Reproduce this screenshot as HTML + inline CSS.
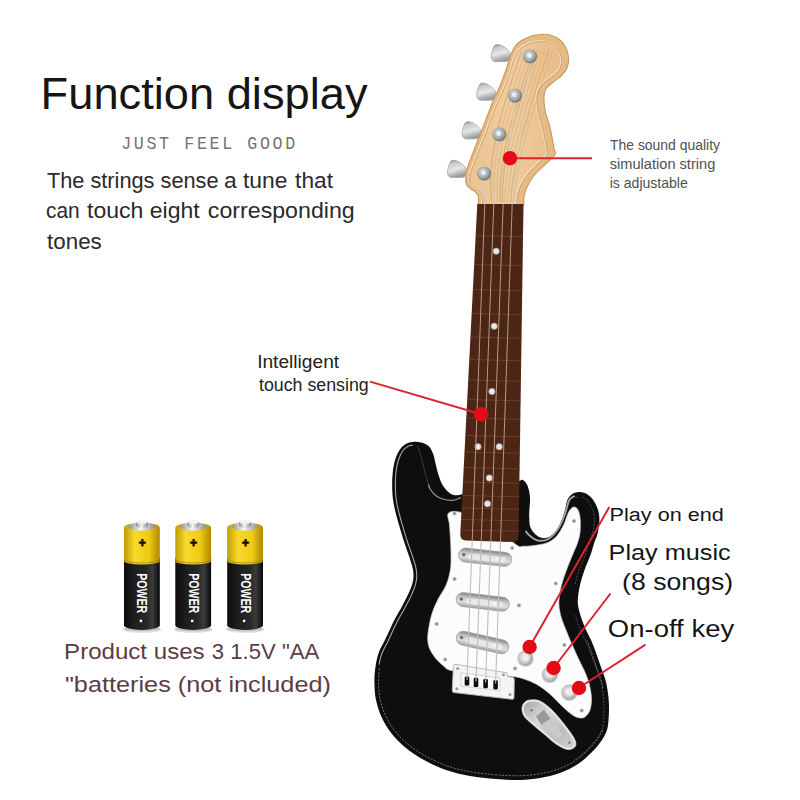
<!DOCTYPE html>
<html lang="en"><head><meta charset="utf-8"><title>Function display</title>
<style>html,body{margin:0;padding:0;background:#fff}body{width:800px;height:800px;overflow:hidden;font-family:"Liberation Sans",sans-serif}svg{display:block}</style>
</head><body>
<svg width="800" height="800" viewBox="0 0 800 800">
<defs>
<linearGradient id="wood" x1="0" y1="0" x2="1" y2="0"><stop offset="0" stop-color="#eac392"/><stop offset="0.45" stop-color="#f0cc9d"/><stop offset="1" stop-color="#e7bc88"/></linearGradient>
<radialGradient id="metal" cx="0.42" cy="0.4" r="0.65"><stop offset="0" stop-color="#f2f4f4"/><stop offset="0.28" stop-color="#c3c8ca"/><stop offset="0.7" stop-color="#a2a9ac"/><stop offset="1" stop-color="#6c7276"/></radialGradient>
<radialGradient id="knob" cx="0.45" cy="0.45" r="0.6"><stop offset="0" stop-color="#f3f3f3"/><stop offset="0.5" stop-color="#d6d6d6"/><stop offset="0.8" stop-color="#b4b4b4"/><stop offset="1" stop-color="#8e8e8e"/></radialGradient>
<linearGradient id="peg" x1="0" y1="0" x2="0.3" y2="1"><stop offset="0" stop-color="#808487"/><stop offset="0.25" stop-color="#c8cbcc"/><stop offset="0.6" stop-color="#e6e7e7"/><stop offset="1" stop-color="#999da0"/></linearGradient>
<linearGradient id="pick" x1="0" y1="0" x2="0" y2="1"><stop offset="0" stop-color="#808080"/><stop offset="0.3" stop-color="#c2c2c2"/><stop offset="0.65" stop-color="#dedede"/><stop offset="1" stop-color="#a0a0a0"/></linearGradient>
<linearGradient id="jackg" x1="0" y1="0" x2="1" y2="1"><stop offset="0" stop-color="#a9a9a9"/><stop offset="0.35" stop-color="#d9d9d9"/><stop offset="0.7" stop-color="#bcbcbc"/><stop offset="1" stop-color="#d0d0d0"/></linearGradient>
<linearGradient id="batY" x1="0" y1="0" x2="1" y2="0"><stop offset="0" stop-color="#c39c00"/><stop offset="0.3" stop-color="#f7da2c"/><stop offset="0.7" stop-color="#efca12"/><stop offset="1" stop-color="#ad8800"/></linearGradient>
<linearGradient id="batK" x1="0" y1="0" x2="1" y2="0"><stop offset="0" stop-color="#0c0c0c"/><stop offset="0.3" stop-color="#1e1e1e"/><stop offset="0.62" stop-color="#272727"/><stop offset="0.8" stop-color="#3b3b3b"/><stop offset="0.93" stop-color="#1a1a1a"/><stop offset="1" stop-color="#080808"/></linearGradient>
<linearGradient id="batT" x1="0" y1="0" x2="1" y2="0"><stop offset="0" stop-color="#909090"/><stop offset="0.45" stop-color="#f6f6f6"/><stop offset="1" stop-color="#8a8a8a"/></linearGradient>
<clipPath id="headclip"><path d="M478.0 205.0C478.1 203.7 478.9 199.1 478.6 197.0C478.3 194.9 477.3 193.8 476.0 192.5C474.7 191.2 472.6 190.3 471.0 189.0C469.4 187.7 467.4 186.8 466.5 184.5C465.6 182.2 465.6 178.3 465.8 175.5C465.9 172.7 465.1 174.2 467.5 167.5C469.9 160.8 475.8 145.8 480.0 135.0C484.2 124.2 489.2 110.7 492.5 102.5C495.8 94.3 497.8 91.4 500.0 86.0C502.2 80.6 504.3 74.8 506.0 70.0C507.7 65.2 508.7 60.7 510.0 57.0C511.3 53.3 512.3 50.6 514.0 48.0C515.7 45.4 517.3 43.4 520.0 41.5C522.7 39.6 526.7 37.7 530.0 36.5C533.3 35.3 536.7 34.8 540.0 34.5C543.3 34.2 546.7 34.1 550.0 35.0C553.3 35.9 557.3 37.8 560.0 40.0C562.7 42.2 564.6 45.0 566.0 48.0C567.4 51.0 568.3 54.7 568.5 58.0C568.7 61.3 568.2 65.0 567.0 68.0C565.8 71.0 563.5 73.5 561.0 76.0C558.5 78.5 554.5 80.8 552.0 83.0C549.5 85.2 547.3 86.8 546.0 89.0C544.7 91.2 544.2 92.5 544.0 96.0C543.8 99.5 544.0 104.8 545.0 110.0C546.0 115.2 548.5 121.2 550.0 127.5C551.5 133.8 553.2 143.5 554.0 148.0C554.8 152.5 556.3 151.9 555.0 154.5C553.7 157.1 549.5 160.0 546.0 163.5C542.5 167.0 537.2 171.6 534.0 175.5C530.8 179.4 528.7 183.4 527.0 187.0C525.3 190.6 524.5 194.0 524.0 197.0C523.5 200.0 523.8 203.7 523.8 205.0Z"/></clipPath>
<clipPath id="bodyclip"><path d="M412.5 442.0C415.2 441.7 418.5 441.8 421.2 442.5C424.0 443.2 426.8 444.4 428.8 446.2C430.7 448.1 432.0 450.8 433.1 453.8C434.2 456.7 434.8 460.4 435.6 463.8C436.4 467.1 437.1 470.4 438.1 473.8C439.2 477.1 440.3 480.8 441.9 483.8C443.5 486.7 445.5 489.4 447.5 491.2C449.5 493.1 451.5 494.5 453.8 495.0C456.0 495.5 455.2 495.6 461.2 494.4C467.3 493.2 480.4 490.2 490.0 488.0C499.6 485.8 513.7 482.4 519.0 481.0C524.3 479.6 520.6 478.9 522.0 479.6C523.4 480.3 525.9 482.0 527.2 485.0C528.5 488.0 529.7 492.4 530.0 497.5C530.3 502.6 529.1 510.4 529.2 515.4C529.4 520.4 529.2 524.3 530.6 527.8C532.0 531.2 535.0 534.3 537.5 536.0C540.0 537.7 543.0 538.5 545.8 538.0C548.5 537.5 551.5 535.9 554.0 533.2C556.5 530.6 559.1 526.1 560.9 522.2C562.7 518.4 563.9 513.8 565.0 509.9C566.1 506.0 566.1 501.8 567.8 498.9C569.4 496.0 571.9 493.7 574.6 492.7C577.4 491.7 581.3 491.7 584.2 492.7C587.2 493.7 590.2 496.0 592.5 498.9C594.8 501.8 596.9 506.2 598.0 509.9C599.1 513.6 599.5 516.8 599.4 520.9C599.3 525.0 598.1 531.1 597.3 534.6C596.5 538.1 595.6 538.6 594.5 542.0C593.4 545.4 592.2 550.3 590.5 555.0C588.8 559.7 586.2 565.0 584.5 570.0C582.8 575.0 581.1 580.0 580.0 585.0C578.9 590.0 578.0 595.8 577.8 600.0C577.6 604.2 578.3 606.7 579.0 610.0C579.7 613.3 580.8 616.7 582.0 620.0C583.2 623.3 584.5 626.7 586.0 630.0C587.5 633.3 589.5 636.7 591.0 640.0C592.5 643.3 593.8 646.7 595.0 650.0C596.2 653.3 597.3 656.7 598.5 660.0C599.7 663.3 600.8 666.7 602.0 670.0C603.2 673.3 604.6 676.7 605.5 680.0C606.4 683.3 607.0 686.7 607.5 690.0C608.0 693.3 608.5 696.7 608.7 700.0C609.0 703.3 609.0 706.7 609.0 710.0C609.0 713.3 608.8 716.7 608.5 720.0C608.2 723.3 608.1 726.7 607.0 730.0C605.9 733.3 604.5 736.3 602.0 740.0C599.5 743.7 596.0 748.0 592.0 752.0C588.0 756.0 583.3 760.5 578.0 764.0C572.7 767.5 566.3 770.7 560.0 773.0C553.7 775.3 546.7 776.8 540.0 778.0C533.3 779.2 527.3 779.8 520.0 780.0C512.7 780.2 504.3 779.7 496.0 779.0C487.7 778.3 478.3 777.5 470.0 776.0C461.7 774.5 453.7 772.7 446.0 770.0C438.3 767.3 430.7 763.7 424.0 760.0C417.3 756.3 411.3 752.3 406.0 748.0C400.7 743.7 396.0 739.0 392.0 734.0C388.0 729.0 384.7 723.7 382.0 718.0C379.3 712.3 377.3 706.0 376.0 700.0C374.7 694.0 374.5 687.7 374.4 682.0C374.3 676.3 374.8 671.0 375.6 666.0C376.4 661.0 377.4 656.3 379.0 652.0C380.6 647.7 382.4 645.3 385.0 640.0C387.6 634.7 391.5 625.8 394.4 620.0C397.3 614.2 400.1 610.1 402.5 605.5C404.9 600.9 407.2 596.6 409.0 592.5C410.8 588.4 412.3 584.8 413.0 581.0C413.7 577.2 413.7 573.9 413.0 569.8C412.3 565.6 410.4 560.5 409.0 556.0C407.6 551.5 405.9 547.3 404.5 543.0C403.1 538.7 402.0 535.1 400.5 530.0C399.0 524.9 396.8 517.5 395.6 512.5C394.4 507.5 393.7 504.0 393.1 500.0C392.5 496.0 392.4 492.9 392.2 488.8C392.1 484.6 392.1 479.4 392.5 475.0C392.9 470.6 393.4 466.5 394.4 462.5C395.4 458.5 397.0 454.3 398.8 451.2C400.5 448.2 402.7 445.9 405.0 444.4C407.3 442.9 409.8 442.3 412.5 442.0Z"/></clipPath>
</defs>
<rect width="800" height="800" fill="#ffffff"/>
<g id="guitar">
<path d="M495.6 44.8C497.3 44.1 500.6 44.8 503.0 46.2C505.4 47.6 509.1 50.6 510.0 53.0C510.9 55.4 510.0 59.2 508.5 60.6C507.0 62.0 503.5 61.5 501.0 61.6C498.5 61.7 495.4 62.0 493.8 61.2C492.1 60.5 491.5 58.9 491.3 57.0C491.1 55.1 491.9 52.0 492.6 50.0C493.3 48.0 493.9 45.4 495.6 44.8Z" fill="url(#peg)" stroke="#9b9ea0" stroke-width="0.7"/>
<path d="M481.0 83.3C482.7 82.7 486.0 83.4 488.4 84.8C490.8 86.2 494.5 89.2 495.4 91.6C496.3 94.0 495.4 97.8 493.9 99.2C492.4 100.6 488.9 100.1 486.4 100.2C483.9 100.3 480.8 100.6 479.1 99.8C477.5 99.1 476.9 97.5 476.7 95.6C476.5 93.7 477.3 90.6 478.0 88.6C478.7 86.6 479.3 84.0 481.0 83.3Z" fill="url(#peg)" stroke="#9b9ea0" stroke-width="0.7"/>
<path d="M466.4 122.0C468.1 121.3 471.4 122.0 473.8 123.4C476.2 124.8 479.9 127.8 480.8 130.2C481.7 132.6 480.8 136.4 479.3 137.8C477.8 139.2 474.3 138.7 471.8 138.8C469.3 138.9 466.2 139.2 464.6 138.4C462.9 137.7 462.3 136.1 462.1 134.2C461.9 132.3 462.7 129.2 463.4 127.2C464.1 125.2 464.7 122.6 466.4 122.0Z" fill="url(#peg)" stroke="#9b9ea0" stroke-width="0.7"/>
<path d="M451.8 160.6C453.5 159.9 456.8 160.6 459.2 162.0C461.6 163.4 465.3 166.4 466.2 168.8C467.1 171.2 466.2 175.0 464.7 176.4C463.2 177.8 459.7 177.3 457.2 177.4C454.7 177.5 451.6 177.8 449.9 177.1C448.3 176.3 447.7 174.7 447.5 172.8C447.3 170.9 448.1 167.8 448.8 165.8C449.5 163.8 450.1 161.2 451.8 160.6Z" fill="url(#peg)" stroke="#9b9ea0" stroke-width="0.7"/>
<path d="M478.0 205.0C478.1 203.7 478.9 199.1 478.6 197.0C478.3 194.9 477.3 193.8 476.0 192.5C474.7 191.2 472.6 190.3 471.0 189.0C469.4 187.7 467.4 186.8 466.5 184.5C465.6 182.2 465.6 178.3 465.8 175.5C465.9 172.7 465.1 174.2 467.5 167.5C469.9 160.8 475.8 145.8 480.0 135.0C484.2 124.2 489.2 110.7 492.5 102.5C495.8 94.3 497.8 91.4 500.0 86.0C502.2 80.6 504.3 74.8 506.0 70.0C507.7 65.2 508.7 60.7 510.0 57.0C511.3 53.3 512.3 50.6 514.0 48.0C515.7 45.4 517.3 43.4 520.0 41.5C522.7 39.6 526.7 37.7 530.0 36.5C533.3 35.3 536.7 34.8 540.0 34.5C543.3 34.2 546.7 34.1 550.0 35.0C553.3 35.9 557.3 37.8 560.0 40.0C562.7 42.2 564.6 45.0 566.0 48.0C567.4 51.0 568.3 54.7 568.5 58.0C568.7 61.3 568.2 65.0 567.0 68.0C565.8 71.0 563.5 73.5 561.0 76.0C558.5 78.5 554.5 80.8 552.0 83.0C549.5 85.2 547.3 86.8 546.0 89.0C544.7 91.2 544.2 92.5 544.0 96.0C543.8 99.5 544.0 104.8 545.0 110.0C546.0 115.2 548.5 121.2 550.0 127.5C551.5 133.8 553.2 143.5 554.0 148.0C554.8 152.5 556.3 151.9 555.0 154.5C553.7 157.1 549.5 160.0 546.0 163.5C542.5 167.0 537.2 171.6 534.0 175.5C530.8 179.4 528.7 183.4 527.0 187.0C525.3 190.6 524.5 194.0 524.0 197.0C523.5 200.0 523.8 203.7 523.8 205.0Z" fill="url(#wood)"/>
<g clip-path="url(#headclip)">
<path d="M478.0 205.0C478.1 203.7 478.9 199.1 478.6 197.0C478.3 194.9 477.3 193.8 476.0 192.5C474.7 191.2 472.6 190.3 471.0 189.0C469.4 187.7 467.4 186.8 466.5 184.5C465.6 182.2 465.6 178.3 465.8 175.5C465.9 172.7 465.1 174.2 467.5 167.5C469.9 160.8 475.8 145.8 480.0 135.0C484.2 124.2 489.2 110.7 492.5 102.5C495.8 94.3 497.8 91.4 500.0 86.0C502.2 80.6 504.3 74.8 506.0 70.0C507.7 65.2 508.7 60.7 510.0 57.0C511.3 53.3 512.3 50.6 514.0 48.0C515.7 45.4 517.3 43.4 520.0 41.5C522.7 39.6 526.7 37.7 530.0 36.5C533.3 35.3 536.7 34.8 540.0 34.5C543.3 34.2 546.7 34.1 550.0 35.0C553.3 35.9 557.3 37.8 560.0 40.0C562.7 42.2 564.6 45.0 566.0 48.0C567.4 51.0 568.3 54.7 568.5 58.0C568.7 61.3 568.2 65.0 567.0 68.0C565.8 71.0 563.5 73.5 561.0 76.0C558.5 78.5 554.5 80.8 552.0 83.0C549.5 85.2 547.3 86.8 546.0 89.0C544.7 91.2 544.2 92.5 544.0 96.0C543.8 99.5 544.0 104.8 545.0 110.0C546.0 115.2 548.5 121.2 550.0 127.5C551.5 133.8 553.2 143.5 554.0 148.0C554.8 152.5 556.3 151.9 555.0 154.5C553.7 157.1 549.5 160.0 546.0 163.5C542.5 167.0 537.2 171.6 534.0 175.5C530.8 179.4 528.7 183.4 527.0 187.0C525.3 190.6 524.5 194.0 524.0 197.0C523.5 200.0 523.8 203.7 523.8 205.0Z" fill="none" stroke="#e6ba85" stroke-width="16"/>
<path d="M469.0 174.7C469.0 174.9 469.0 175.3 469.0 175.8C469.0 176.3 468.9 176.9 468.9 177.8C468.9 178.6 468.9 180.0 468.9 180.9C469.0 181.8 469.2 182.7 469.2 183.2C469.3 183.6 469.2 183.4 469.4 183.5C469.5 183.7 469.8 183.9 470.1 184.2C470.5 184.4 470.9 184.8 471.3 185.1C471.7 185.4 472.1 185.7 472.5 186.0C473.0 186.4 473.8 186.8 474.2 187.0C474.6 187.3 474.6 187.3 475.0 187.6C475.4 187.9 476.1 188.3 476.5 188.7C477.0 189.0 477.3 189.4 477.7 189.7C478.1 190.1 478.4 190.5 478.7 190.8C479.0 191.1 479.2 191.4 479.5 191.8C479.8 192.2 480.1 192.7 480.4 193.3C480.7 193.8 481.0 194.3 481.2 194.9C481.4 195.5 481.6 196.2 481.7 196.9C481.8 197.5 481.9 198.2 481.9 199.0C481.9 199.7 481.8 200.8 481.8 201.5C481.7 202.1 481.7 202.3 481.6 202.9C481.5 203.6 481.4 202.8 481.3 205.2C481.3 207.6 475.4 217.4 481.2 217.5C487.0 217.6 510.2 207.8 516.0 205.5C521.8 203.2 516.0 204.5 515.9 203.8C515.9 203.1 515.9 202.2 515.9 201.5C515.9 200.9 515.9 200.6 516.0 199.9C516.0 199.2 516.2 197.9 516.3 197.2C516.3 196.5 516.4 196.4 516.5 195.7C516.7 195.1 516.9 193.9 517.1 193.2C517.3 192.5 517.3 192.4 517.5 191.6C517.7 190.9 518.1 189.6 518.4 188.9C518.7 188.1 518.7 187.9 519.1 187.1C519.4 186.4 520.0 185.0 520.4 184.3C520.7 183.5 520.8 183.4 521.2 182.6C521.6 181.9 522.4 180.4 522.9 179.6C523.3 178.9 523.4 178.7 523.9 177.9C524.5 177.1 525.5 175.6 526.1 174.8C526.7 173.9 526.8 173.8 527.5 172.9C528.2 172.1 529.6 170.5 530.4 169.7C531.2 168.9 531.3 168.8 532.1 168.0C533.0 167.1 534.4 165.8 535.4 164.8C536.5 163.8 537.5 162.8 538.5 161.9C539.5 161.0 540.5 159.9 541.2 159.2C541.9 158.6 541.9 158.6 542.7 157.9C543.6 157.1 545.6 155.4 546.3 154.6C547.1 153.9 547.2 154.0 547.2 153.3C547.2 152.5 546.5 151.1 546.3 150.2C546.1 149.4 546.2 149.7 545.9 148.1C545.6 146.4 545.1 143.1 544.5 140.5C544.0 137.8 543.5 134.7 542.9 132.2C542.3 129.7 541.7 127.3 541.2 125.4C540.6 123.5 540.2 122.5 539.8 121.0C539.3 119.5 538.8 117.8 538.4 116.6C538.1 115.5 538.0 115.3 537.8 114.2C537.5 113.1 537.1 111.1 536.9 110.0C536.8 108.9 536.7 108.7 536.6 107.7C536.5 106.6 536.4 104.7 536.3 103.8C536.2 102.8 536.2 102.6 536.2 101.7C536.2 100.8 536.1 99.2 536.2 98.4C536.2 97.5 536.2 97.3 536.2 96.6C536.3 95.9 536.3 94.8 536.4 94.1C536.5 93.4 536.6 93.1 536.7 92.5C536.9 91.8 537.1 91.0 537.3 90.4C537.5 89.9 537.7 89.5 538.0 88.9C538.3 88.4 538.6 87.7 539.0 87.2C539.3 86.7 539.5 86.3 540.0 85.8C540.4 85.2 541.1 84.5 541.5 84.0C541.9 83.5 542.1 83.4 542.6 82.9C543.0 82.5 543.7 81.9 544.3 81.4C544.9 80.9 545.6 80.3 546.1 79.8C546.6 79.4 546.8 79.3 547.4 78.8C548.0 78.3 549.0 77.6 549.8 77.0C550.6 76.5 551.3 76.0 552.1 75.3C553.0 74.7 554.0 73.8 554.9 73.1C555.7 72.3 556.5 71.4 557.2 70.6C557.9 69.8 558.4 69.0 558.9 68.3C559.3 67.6 559.6 66.9 559.9 66.1C560.2 65.3 560.4 64.3 560.5 63.4C560.7 62.4 560.7 61.3 560.7 60.3C560.7 59.3 560.7 58.3 560.5 57.3C560.3 56.3 560.1 55.2 559.8 54.2C559.5 53.2 559.1 52.2 558.7 51.3C558.3 50.4 557.8 49.5 557.3 48.7C556.7 47.9 556.2 47.2 555.5 46.5C554.9 45.8 554.3 45.3 553.5 44.7C552.6 44.1 551.5 43.5 550.5 43.0C549.5 42.4 548.2 41.9 547.2 41.6C546.2 41.3 545.4 41.1 544.5 41.0C543.5 40.8 542.6 40.8 541.5 40.8C540.5 40.8 539.2 40.9 538.1 41.0C537.0 41.1 535.9 41.2 534.8 41.4C533.7 41.5 532.7 41.8 531.6 42.0C530.6 42.3 529.5 42.7 528.4 43.1C527.3 43.5 526.0 44.1 524.9 44.6C523.8 45.2 522.6 45.8 521.7 46.4C520.8 47.0 520.2 47.5 519.5 48.1C518.9 48.6 518.4 49.1 517.9 49.8C517.4 50.4 516.8 51.2 516.3 52.0C515.9 52.7 515.5 53.4 515.0 54.3C514.6 55.2 514.2 56.2 513.8 57.4C513.4 58.5 512.9 59.8 512.4 61.1C512.0 62.5 511.5 64.3 511.1 65.6C510.7 66.9 510.4 68.1 510.1 69.0C509.9 69.9 509.8 70.0 509.5 70.9C509.2 71.9 508.6 73.7 508.3 74.7C507.9 75.6 507.9 75.6 507.6 76.6C507.2 77.6 506.5 79.7 506.1 80.7C505.7 81.7 505.7 81.8 505.3 82.8C504.9 83.9 504.1 85.9 503.6 87.0C503.2 88.0 503.2 88.2 502.8 89.2C502.3 90.2 501.5 92.1 501.0 93.0C500.6 94.0 500.8 93.6 500.2 94.9C499.6 96.1 498.5 98.2 497.5 100.5C496.4 102.8 495.3 105.5 494.0 108.8C492.6 112.2 491.0 116.5 489.4 120.7C487.8 124.9 485.5 130.9 484.4 133.8C483.3 136.7 483.7 135.8 482.8 138.0C482.0 140.1 480.9 143.0 479.4 146.7C478.0 150.4 475.7 156.1 474.2 160.1C472.7 164.0 471.3 167.9 470.4 170.3C469.5 172.8 469.2 173.8 469.0 174.6C468.8 175.3 469.0 174.5 469.0 174.7Z" fill="url(#wood)" stroke="#f6e6cc" stroke-width="1.1"/>
<path d="M469.0 174.7C469.0 174.9 469.0 175.3 469.0 175.8C469.0 176.3 468.9 176.9 468.9 177.8C468.9 178.6 468.9 180.0 468.9 180.9C469.0 181.8 469.2 182.7 469.2 183.2C469.3 183.6 469.2 183.4 469.4 183.5C469.5 183.7 469.8 183.9 470.1 184.2C470.5 184.4 470.9 184.8 471.3 185.1C471.7 185.4 472.1 185.7 472.5 186.0C473.0 186.4 473.8 186.8 474.2 187.0C474.6 187.3 474.6 187.3 475.0 187.6C475.4 187.9 476.1 188.3 476.5 188.7C477.0 189.0 477.3 189.4 477.7 189.7C478.1 190.1 478.4 190.5 478.7 190.8C479.0 191.1 479.2 191.4 479.5 191.8C479.8 192.2 480.1 192.7 480.4 193.3C480.7 193.8 481.0 194.3 481.2 194.9C481.4 195.5 481.6 196.2 481.7 196.9C481.8 197.5 481.9 198.2 481.9 199.0C481.9 199.7 481.8 200.8 481.8 201.5C481.7 202.1 481.7 202.3 481.6 202.9C481.5 203.6 481.4 202.8 481.3 205.2C481.3 207.6 475.4 217.4 481.2 217.5C487.0 217.6 510.2 207.8 516.0 205.5C521.8 203.2 516.0 204.5 515.9 203.8C515.9 203.1 515.9 202.2 515.9 201.5C515.9 200.9 515.9 200.6 516.0 199.9C516.0 199.2 516.2 197.9 516.3 197.2C516.3 196.5 516.4 196.4 516.5 195.7C516.7 195.1 516.9 193.9 517.1 193.2C517.3 192.5 517.3 192.4 517.5 191.6C517.7 190.9 518.1 189.6 518.4 188.9C518.7 188.1 518.7 187.9 519.1 187.1C519.4 186.4 520.0 185.0 520.4 184.3C520.7 183.5 520.8 183.4 521.2 182.6C521.6 181.9 522.4 180.4 522.9 179.6C523.3 178.9 523.4 178.7 523.9 177.9C524.5 177.1 525.5 175.6 526.1 174.8C526.7 173.9 526.8 173.8 527.5 172.9C528.2 172.1 529.6 170.5 530.4 169.7C531.2 168.9 531.3 168.8 532.1 168.0C533.0 167.1 534.4 165.8 535.4 164.8C536.5 163.8 537.5 162.8 538.5 161.9C539.5 161.0 540.5 159.9 541.2 159.2C541.9 158.6 541.9 158.6 542.7 157.9C543.6 157.1 545.6 155.4 546.3 154.6C547.1 153.9 547.2 154.0 547.2 153.3C547.2 152.5 546.5 151.1 546.3 150.2C546.1 149.4 546.2 149.7 545.9 148.1C545.6 146.4 545.1 143.1 544.5 140.5C544.0 137.8 543.5 134.7 542.9 132.2C542.3 129.7 541.7 127.3 541.2 125.4C540.6 123.5 540.2 122.5 539.8 121.0C539.3 119.5 538.8 117.8 538.4 116.6C538.1 115.5 538.0 115.3 537.8 114.2C537.5 113.1 537.1 111.1 536.9 110.0C536.8 108.9 536.7 108.7 536.6 107.7C536.5 106.6 536.4 104.7 536.3 103.8C536.2 102.8 536.2 102.6 536.2 101.7C536.2 100.8 536.1 99.2 536.2 98.4C536.2 97.5 536.2 97.3 536.2 96.6C536.3 95.9 536.3 94.8 536.4 94.1C536.5 93.4 536.6 93.1 536.7 92.5C536.9 91.8 537.1 91.0 537.3 90.4C537.5 89.9 537.7 89.5 538.0 88.9C538.3 88.4 538.6 87.7 539.0 87.2C539.3 86.7 539.5 86.3 540.0 85.8C540.4 85.2 541.1 84.5 541.5 84.0C541.9 83.5 542.1 83.4 542.6 82.9C543.0 82.5 543.7 81.9 544.3 81.4C544.9 80.9 545.6 80.3 546.1 79.8C546.6 79.4 546.8 79.3 547.4 78.8C548.0 78.3 549.0 77.6 549.8 77.0C550.6 76.5 551.3 76.0 552.1 75.3C553.0 74.7 554.0 73.8 554.9 73.1C555.7 72.3 556.5 71.4 557.2 70.6C557.9 69.8 558.4 69.0 558.9 68.3C559.3 67.6 559.6 66.9 559.9 66.1C560.2 65.3 560.4 64.3 560.5 63.4C560.7 62.4 560.7 61.3 560.7 60.3C560.7 59.3 560.7 58.3 560.5 57.3C560.3 56.3 560.1 55.2 559.8 54.2C559.5 53.2 559.1 52.2 558.7 51.3C558.3 50.4 557.8 49.5 557.3 48.7C556.7 47.9 556.2 47.2 555.5 46.5C554.9 45.8 554.3 45.3 553.5 44.7C552.6 44.1 551.5 43.5 550.5 43.0C549.5 42.4 548.2 41.9 547.2 41.6C546.2 41.3 545.4 41.1 544.5 41.0C543.5 40.8 542.6 40.8 541.5 40.8C540.5 40.8 539.2 40.9 538.1 41.0C537.0 41.1 535.9 41.2 534.8 41.4C533.7 41.5 532.7 41.8 531.6 42.0C530.6 42.3 529.5 42.7 528.4 43.1C527.3 43.5 526.0 44.1 524.9 44.6C523.8 45.2 522.6 45.8 521.7 46.4C520.8 47.0 520.2 47.5 519.5 48.1C518.9 48.6 518.4 49.1 517.9 49.8C517.4 50.4 516.8 51.2 516.3 52.0C515.9 52.7 515.5 53.4 515.0 54.3C514.6 55.2 514.2 56.2 513.8 57.4C513.4 58.5 512.9 59.8 512.4 61.1C512.0 62.5 511.5 64.3 511.1 65.6C510.7 66.9 510.4 68.1 510.1 69.0C509.9 69.9 509.8 70.0 509.5 70.9C509.2 71.9 508.6 73.7 508.3 74.7C507.9 75.6 507.9 75.6 507.6 76.6C507.2 77.6 506.5 79.7 506.1 80.7C505.7 81.7 505.7 81.8 505.3 82.8C504.9 83.9 504.1 85.9 503.6 87.0C503.2 88.0 503.2 88.2 502.8 89.2C502.3 90.2 501.5 92.1 501.0 93.0C500.6 94.0 500.8 93.6 500.2 94.9C499.6 96.1 498.5 98.2 497.5 100.5C496.4 102.8 495.3 105.5 494.0 108.8C492.6 112.2 491.0 116.5 489.4 120.7C487.8 124.9 485.5 130.9 484.4 133.8C483.3 136.7 483.7 135.8 482.8 138.0C482.0 140.1 480.9 143.0 479.4 146.7C478.0 150.4 475.7 156.1 474.2 160.1C472.7 164.0 471.3 167.9 470.4 170.3C469.5 172.8 469.2 173.8 469.0 174.6C468.8 175.3 469.0 174.5 469.0 174.7Z" fill="none" stroke="#c99a62" stroke-width="0.8" transform="translate(0.8 0.7)"/>
<path d="M491.6 202 C487.0 160 498.0 120 522.0 50" fill="none" stroke="#d2a877" stroke-width="1.2" opacity="0.75"/>
<path d="M494.4 202 C491.0 160 502.0 120 526.0 50" fill="none" stroke="#d2a877" stroke-width="0.7" opacity="0.75"/>
<path d="M497.2 202 C495.0 160 506.0 120 530.0 50" fill="none" stroke="#d2a877" stroke-width="0.7" opacity="0.75"/>
<path d="M500.0 202 C499.0 160 510.0 120 534.0 50" fill="none" stroke="#d2a877" stroke-width="1.2" opacity="0.75"/>
<path d="M502.1 202 C502.0 160 513.0 120 537.0 50" fill="none" stroke="#d2a877" stroke-width="1.2" opacity="0.75"/>
<path d="M504.9 202 C506.0 160 517.0 120 541.0 50" fill="none" stroke="#d2a877" stroke-width="0.7" opacity="0.75"/>
<path d="M507.7 202 C510.0 160 521.0 120 545.0 50" fill="none" stroke="#d2a877" stroke-width="0.7" opacity="0.75"/>
<path d="M510.5 202 C514.0 160 525.0 120 549.0 50" fill="none" stroke="#d2a877" stroke-width="1.2" opacity="0.75"/>
<path d="M513.3 202 C518.0 160 529.0 120 553.0 50" fill="none" stroke="#d2a877" stroke-width="0.7" opacity="0.75"/>
</g>
<path d="M478.0 205.0C478.1 203.7 478.9 199.1 478.6 197.0C478.3 194.9 477.3 193.8 476.0 192.5C474.7 191.2 472.6 190.3 471.0 189.0C469.4 187.7 467.4 186.8 466.5 184.5C465.6 182.2 465.6 178.3 465.8 175.5C465.9 172.7 465.1 174.2 467.5 167.5C469.9 160.8 475.8 145.8 480.0 135.0C484.2 124.2 489.2 110.7 492.5 102.5C495.8 94.3 497.8 91.4 500.0 86.0C502.2 80.6 504.3 74.8 506.0 70.0C507.7 65.2 508.7 60.7 510.0 57.0C511.3 53.3 512.3 50.6 514.0 48.0C515.7 45.4 517.3 43.4 520.0 41.5C522.7 39.6 526.7 37.7 530.0 36.5C533.3 35.3 536.7 34.8 540.0 34.5C543.3 34.2 546.7 34.1 550.0 35.0C553.3 35.9 557.3 37.8 560.0 40.0C562.7 42.2 564.6 45.0 566.0 48.0C567.4 51.0 568.3 54.7 568.5 58.0C568.7 61.3 568.2 65.0 567.0 68.0C565.8 71.0 563.5 73.5 561.0 76.0C558.5 78.5 554.5 80.8 552.0 83.0C549.5 85.2 547.3 86.8 546.0 89.0C544.7 91.2 544.2 92.5 544.0 96.0C543.8 99.5 544.0 104.8 545.0 110.0C546.0 115.2 548.5 121.2 550.0 127.5C551.5 133.8 553.2 143.5 554.0 148.0C554.8 152.5 556.3 151.9 555.0 154.5C553.7 157.1 549.5 160.0 546.0 163.5C542.5 167.0 537.2 171.6 534.0 175.5C530.8 179.4 528.7 183.4 527.0 187.0C525.3 190.6 524.5 194.0 524.0 197.0C523.5 200.0 523.8 203.7 523.8 205.0Z" fill="none" stroke="#c9995f" stroke-width="1.1"/>
<line x1="484.8" y1="204" x2="484.2" y2="178.2" stroke="#d9cbb8" stroke-width="1"/>
<line x1="493.8" y1="204" x2="499.5" y2="139.0" stroke="#d9cbb8" stroke-width="1"/>
<line x1="503.2" y1="204" x2="515.1" y2="100.2" stroke="#d9cbb8" stroke-width="1"/>
<line x1="512.2" y1="204" x2="530.2" y2="61.0" stroke="#d9cbb8" stroke-width="1"/>
<circle cx="484.2" cy="173.8" r="7" fill="#7f8486"/>
<circle cx="483.8" cy="173.2" r="6.4" fill="url(#metal)"/>
<circle cx="483.4" cy="172.8" r="2.2" fill="#eef0f1"/>
<circle cx="499.5" cy="134.6" r="7" fill="#7f8486"/>
<circle cx="499.0" cy="134.0" r="6.4" fill="url(#metal)"/>
<circle cx="498.7" cy="133.5" r="2.2" fill="#eef0f1"/>
<circle cx="515.1" cy="95.8" r="7" fill="#7f8486"/>
<circle cx="514.6" cy="95.2" r="6.4" fill="url(#metal)"/>
<circle cx="514.3" cy="94.8" r="2.2" fill="#eef0f1"/>
<circle cx="530.2" cy="56.6" r="7" fill="#7f8486"/>
<circle cx="529.8" cy="56.0" r="6.4" fill="url(#metal)"/>
<circle cx="529.5" cy="55.5" r="2.2" fill="#eef0f1"/>
<path d="M412.5 442.0C415.2 441.7 418.5 441.8 421.2 442.5C424.0 443.2 426.8 444.4 428.8 446.2C430.7 448.1 432.0 450.8 433.1 453.8C434.2 456.7 434.8 460.4 435.6 463.8C436.4 467.1 437.1 470.4 438.1 473.8C439.2 477.1 440.3 480.8 441.9 483.8C443.5 486.7 445.5 489.4 447.5 491.2C449.5 493.1 451.5 494.5 453.8 495.0C456.0 495.5 455.2 495.6 461.2 494.4C467.3 493.2 480.4 490.2 490.0 488.0C499.6 485.8 513.7 482.4 519.0 481.0C524.3 479.6 520.6 478.9 522.0 479.6C523.4 480.3 525.9 482.0 527.2 485.0C528.5 488.0 529.7 492.4 530.0 497.5C530.3 502.6 529.1 510.4 529.2 515.4C529.4 520.4 529.2 524.3 530.6 527.8C532.0 531.2 535.0 534.3 537.5 536.0C540.0 537.7 543.0 538.5 545.8 538.0C548.5 537.5 551.5 535.9 554.0 533.2C556.5 530.6 559.1 526.1 560.9 522.2C562.7 518.4 563.9 513.8 565.0 509.9C566.1 506.0 566.1 501.8 567.8 498.9C569.4 496.0 571.9 493.7 574.6 492.7C577.4 491.7 581.3 491.7 584.2 492.7C587.2 493.7 590.2 496.0 592.5 498.9C594.8 501.8 596.9 506.2 598.0 509.9C599.1 513.6 599.5 516.8 599.4 520.9C599.3 525.0 598.1 531.1 597.3 534.6C596.5 538.1 595.6 538.6 594.5 542.0C593.4 545.4 592.2 550.3 590.5 555.0C588.8 559.7 586.2 565.0 584.5 570.0C582.8 575.0 581.1 580.0 580.0 585.0C578.9 590.0 578.0 595.8 577.8 600.0C577.6 604.2 578.3 606.7 579.0 610.0C579.7 613.3 580.8 616.7 582.0 620.0C583.2 623.3 584.5 626.7 586.0 630.0C587.5 633.3 589.5 636.7 591.0 640.0C592.5 643.3 593.8 646.7 595.0 650.0C596.2 653.3 597.3 656.7 598.5 660.0C599.7 663.3 600.8 666.7 602.0 670.0C603.2 673.3 604.6 676.7 605.5 680.0C606.4 683.3 607.0 686.7 607.5 690.0C608.0 693.3 608.5 696.7 608.7 700.0C609.0 703.3 609.0 706.7 609.0 710.0C609.0 713.3 608.8 716.7 608.5 720.0C608.2 723.3 608.1 726.7 607.0 730.0C605.9 733.3 604.5 736.3 602.0 740.0C599.5 743.7 596.0 748.0 592.0 752.0C588.0 756.0 583.3 760.5 578.0 764.0C572.7 767.5 566.3 770.7 560.0 773.0C553.7 775.3 546.7 776.8 540.0 778.0C533.3 779.2 527.3 779.8 520.0 780.0C512.7 780.2 504.3 779.7 496.0 779.0C487.7 778.3 478.3 777.5 470.0 776.0C461.7 774.5 453.7 772.7 446.0 770.0C438.3 767.3 430.7 763.7 424.0 760.0C417.3 756.3 411.3 752.3 406.0 748.0C400.7 743.7 396.0 739.0 392.0 734.0C388.0 729.0 384.7 723.7 382.0 718.0C379.3 712.3 377.3 706.0 376.0 700.0C374.7 694.0 374.5 687.7 374.4 682.0C374.3 676.3 374.8 671.0 375.6 666.0C376.4 661.0 377.4 656.3 379.0 652.0C380.6 647.7 382.4 645.3 385.0 640.0C387.6 634.7 391.5 625.8 394.4 620.0C397.3 614.2 400.1 610.1 402.5 605.5C404.9 600.9 407.2 596.6 409.0 592.5C410.8 588.4 412.3 584.8 413.0 581.0C413.7 577.2 413.7 573.9 413.0 569.8C412.3 565.6 410.4 560.5 409.0 556.0C407.6 551.5 405.9 547.3 404.5 543.0C403.1 538.7 402.0 535.1 400.5 530.0C399.0 524.9 396.8 517.5 395.6 512.5C394.4 507.5 393.7 504.0 393.1 500.0C392.5 496.0 392.4 492.9 392.2 488.8C392.1 484.6 392.1 479.4 392.5 475.0C392.9 470.6 393.4 466.5 394.4 462.5C395.4 458.5 397.0 454.3 398.8 451.2C400.5 448.2 402.7 445.9 405.0 444.4C407.3 442.9 409.8 442.3 412.5 442.0Z" fill="#0e0e0e"/>
<g clip-path="url(#bodyclip)" fill="none">
<path d="M412.9 445.2 L411.1 445.4 L409.5 445.8 L408.1 446.3 L406.8 447.1 L405.4 448.1 L404.0 449.4 L402.7 451.0 L401.5 452.9 L400.4 455.1 L399.3 457.7 L398.3 460.5 L397.5 463.3 L396.9 466.1 L396.4 469.1 L396.0 472.1 L395.7 475.3 L395.5 478.5 L395.4 482.0 L395.4 485.4 L395.4 488.7 L395.5 491.6 L395.7 494.2 L395.9 496.8 L396.3 499.6 L396.7 502.4 L397.2 505.2 L397.9 508.3 L398.7 511.7 L399.8 515.8 L401.0 520.3 L402.4 524.9 L403.6 529.1 L404.6 532.7 L405.6 535.8 L406.5 538.9 L407.5 542.0 L408.6 545.2 L409.8 548.4 L410.3 550.0 L410.9 551.6 L411.5 553.3 L412.0 555.0 L412.6 556.7 L413.2 558.4 L413.8 560.2 L414.3 562.1 L414.9 563.9 L415.4 565.7 L415.8 567.5 L416.2 569.3 L416.4 570.9 L416.6 572.5 L416.7 574.1 L416.7 575.6 L416.7 577.1 L416.6 578.6 L416.4 580.1 L416.1 581.6 L415.8 583.2 L415.4 584.8 L414.9 586.3 L414.4 587.8 L413.8 589.3 L413.2 590.8 L412.6 592.2 L411.9 593.8 L411.2 595.4 L410.5 597.0 L409.7 598.6 L408.9 600.3 L408.0 601.9 L407.1 603.6 L406.2 605.3 L405.3 607.0 L404.4 608.8 L403.4 610.5 L402.4 612.2 L400.4 615.7 L398.3 619.4 L396.1 623.7 L393.7 628.8 L391.2 634.2 L390.0 636.8 L388.9 639.2 L387.9 641.4 L386.9 643.4 L386.0 645.1 L385.2 646.5 L383.8 649.2 L382.6 651.7 L381.5 654.6 L380.5 657.8 L379.7 661.2 L379.1 664.7" stroke="#a9a9a9" stroke-width="1.1"/>
<path d="M379.5 668.5 L379.0 672.2 L378.7 676.0 L378.6 679.9 L378.6 684.1 L378.8 688.4 L379.1 692.7 L379.7 697.0 L380.6 701.3 L381.8 705.6 L383.2 710.0 L384.9 714.2 L386.8 718.2 L388.9 722.1 L391.3 725.9 L393.9 729.6 L396.7 733.1 L399.8 736.6 L403.2 739.9 L406.8 743.2 L410.6 746.3 L414.7 749.3 L419.0 752.2 L423.6 755.0 L428.5 757.7 L433.7 760.3 L439.1 762.8 L444.6 765.0 L450.2 767.0 L455.8 768.6 L461.7 770.0 L467.7 771.3 L473.8 772.4 L480.2 773.3 L486.7 774.0 L493.2 774.6 L499.4 775.1 L505.6 775.5 L511.5 775.7 L517.2 775.8 L522.5 775.7 L527.5 775.4 L532.2 774.9 L536.9 774.3 L541.7 773.4 L546.7 772.4 L551.6 771.2 L556.3 769.8 L560.8 768.2 L565.3 766.2 L569.6 764.1 L573.8 761.7 L577.5 759.2 L581.0 756.5 L584.4 753.5 L587.5 750.5 L590.4 747.6 L593.1 744.7 L595.5 741.8 L597.6 739.0 L599.3 736.4 L600.7 734.1 L601.8 731.9 L602.6 729.8" stroke="#8a8a8a" stroke-width="0.8" stroke-dasharray="2.2 1.3"/>
<path d="M603.0 688.2 L602.5 685.8 L602.0 683.4 L601.5 681.1 L600.7 678.8 L599.9 676.4 L599.0 674.0 L598.5 672.7 L598.0 671.4 L594.5 661.4 L594.1 660.1 L593.7 658.9 L593.2 657.6 L592.4 655.1 L591.5 652.7 L590.6 650.2 L589.7 647.8 L588.7 645.3 L587.7 642.9 L586.6 640.6" stroke="#8a8a8a" stroke-width="0.8" stroke-dasharray="2.2 1.3"/>
<path d="M575.2 759.8 L578.8 757.3 L582.2 754.4 L585.4 751.5 L588.4 748.5 L591.2 745.6 L593.7 742.7 L596.0 739.8 L597.9 737.2 L599.4 734.8 L600.5 732.7 L601.5 730.6 L602.2 728.5 L602.7 726.5 L603.1 724.4 L603.3 722.1 L603.4 720.8 L603.6 718.3 L603.8 716.0 L603.9 713.6 L604.0 711.2 L604.0 708.7 L604.0 706.3 L603.9 703.9 L603.8 701.6 L603.6 699.2 L603.4 696.8 L603.1 694.4 L602.8 692.0 L602.4 689.6 L602.0 687.1 L601.5 684.8 L601.0 682.5 L600.4 680.2 L599.6 677.9 L598.7 675.5 L598.2 674.2 L597.7 672.9 L597.3 671.7 L593.8 661.6 L593.3 660.4 L592.9 659.1 L592.1 656.6 L591.2 654.2 L590.3 651.7 L589.4 649.3 L588.4 646.8 L587.5 644.4 L586.4 642.1 L585.3 639.8 L583.4 636.1 L582.8 634.8 L582.1 633.5 L581.5 632.1 L580.9 630.8 L580.3 629.5 L579.8 628.2 L579.2 626.9 L578.7 625.6 L578.2 624.3 L577.8 623.0 L577.3 621.7 L576.8 620.4 L576.4 619.1 L576.0 617.8 L575.6 616.5 L575.2 615.2" stroke="#5c5c5c" stroke-width="0.9" stroke-dasharray="2 1.4"/>
<path d="M575.1 584.0 L575.6 582.0 L576.1 580.0 L576.6 578.0 L577.2 576.1 L577.8 574.1 L578.5 572.2 L579.1 570.3 L579.8 568.4 L580.5 566.4 L581.3 564.4 L582.1 562.4 L582.9 560.4 L583.7 558.6 L585.2 555.0 L586.4 551.7 L587.4 548.3 L588.4 545.0 L588.8 543.4 L589.3 541.9 L589.7 540.5 L590.2 539.2 L590.7 538.0 L591.1 537.0 L591.5 536.3 L592.0 535.1 L592.4 533.4 L593.1 530.6 L593.7 527.2 L594.2 523.7 L594.4 520.7 L594.4 518.2 L594.2 515.8 L593.8 513.7 L593.2 511.4 L592.3 508.9 L591.2 506.3 L589.9 503.9 L588.6 502.0 L587.2 500.4 L585.6 499.1 L584.1 498.1 L582.6 497.4 L581.1 497.1" stroke="#5c5c5c" stroke-width="0.9" stroke-dasharray="2 1.4"/>
<path d="M577.7 497.1 L576.4 497.4 L575.3 497.9" stroke="#5c5c5c" stroke-width="0.9" stroke-dasharray="2 1.4"/>
<path d="M417.5 446.0C418.1 447.7 420.0 452.4 421.0 456.0C422.0 459.6 422.8 463.8 423.8 467.5C424.7 471.2 425.5 474.5 426.5 478.0C427.5 481.5 429.4 487.0 430.0 488.8" stroke="#3c3c3c" stroke-width="1"/>
<path d="M428.5 484.5C428.8 485.2 429.0 487.1 430.0 488.8C431.0 490.4 432.8 493.0 434.5 494.5C436.2 496.0 437.9 497.1 440.0 498.0C442.1 498.9 444.5 499.7 447.0 500.0C449.5 500.3 452.7 500.4 455.0 500.0C457.3 499.6 460.0 497.9 461.0 497.5" stroke="#9a9a9a" stroke-width="1.2"/>
<path d="M525.5 531.0C526.2 531.8 528.0 534.4 530.0 536.0C532.0 537.6 534.4 540.0 537.5 540.5C540.6 541.0 545.1 540.7 548.5 538.8C551.9 536.8 555.2 533.1 558.0 529.0C560.8 524.9 563.2 518.8 565.0 514.0C566.8 509.2 567.4 503.5 569.0 500.5C570.6 497.5 573.7 496.8 574.6 496.0" stroke="#a2a2a2" stroke-width="2"/>
</g>
<path d="M448.5 513.0C450.6 510.9 455.1 511.0 462.0 512.5C468.9 514.0 481.1 516.7 490.0 522.0C498.9 527.3 509.9 540.2 515.5 544.2C521.1 548.3 520.1 546.2 523.8 546.3C527.4 546.4 533.4 545.7 537.5 545.0C541.6 544.3 545.3 543.7 548.5 542.2C551.7 540.7 554.2 538.9 556.8 536.0C559.3 533.1 561.8 528.7 563.6 525.0C565.4 521.3 566.5 516.8 567.8 514.0C569.0 511.2 570.1 509.6 571.2 508.5C572.3 507.4 573.5 506.9 574.6 507.1C575.7 507.3 577.1 508.1 578.0 509.9C578.9 511.7 579.8 514.4 580.1 518.1C580.5 521.8 580.5 527.8 580.1 531.9C579.7 536.0 578.8 539.1 577.5 543.0C576.2 546.9 574.3 550.5 572.5 555.0C570.7 559.5 568.3 565.0 566.5 570.0C564.7 575.0 562.8 580.0 561.5 585.0C560.2 590.0 559.3 595.8 559.0 600.0C558.7 604.2 559.0 606.7 559.5 610.0C560.0 613.3 560.9 616.7 562.0 620.0C563.1 623.3 564.7 626.7 566.0 630.0C567.3 633.3 568.6 636.7 570.0 640.0C571.4 643.3 573.0 646.7 574.5 650.0C576.0 653.3 577.4 656.7 579.0 660.0C580.6 663.3 582.5 666.7 584.0 670.0C585.5 673.3 586.9 676.7 588.0 680.0C589.1 683.3 589.9 686.7 590.5 690.0C591.1 693.3 591.6 696.7 591.5 700.0C591.4 703.3 590.9 707.3 590.0 710.0C589.1 712.7 587.3 714.7 586.0 716.0C584.7 717.3 583.8 717.9 582.0 718.0C580.2 718.1 577.3 717.6 575.0 716.5C572.7 715.4 570.5 713.6 568.0 711.5C565.5 709.4 562.7 706.6 560.0 704.0C557.3 701.4 554.5 698.3 552.0 696.0C549.5 693.7 547.7 692.0 545.0 690.0C542.3 688.0 539.5 685.8 536.0 684.0C532.5 682.2 528.0 680.2 524.0 679.0C520.0 677.8 519.3 677.3 512.0 676.5C504.7 675.7 490.1 675.0 480.0 674.0C469.9 673.0 457.4 671.9 451.2 670.5C445.1 669.1 445.8 667.8 443.1 665.6C440.4 663.4 437.3 660.5 435.0 657.5C432.7 654.5 430.5 651.0 429.3 647.8C428.1 644.5 427.7 641.8 427.7 638.0C427.7 634.2 428.5 629.3 429.3 625.0C430.1 620.7 431.0 616.3 432.5 612.0C434.0 607.7 435.9 603.6 438.2 599.0C440.6 594.4 444.4 589.3 446.4 584.4C448.4 579.5 449.6 574.6 450.4 569.8C451.2 564.9 451.0 560.0 451.0 555.0C451.0 550.0 450.8 545.0 450.5 540.0C450.2 535.0 449.8 529.5 449.5 525.0C449.2 520.5 446.4 515.1 448.5 513.0Z" fill="#fcfcfc" stroke="#cfcfcf" stroke-width="0.7"/>
<circle cx="454.5" cy="513.5" r="2.1" fill="#b9b9b9"/><circle cx="454.5" cy="513.5" r="0.9" fill="#777"/>
<circle cx="512.2" cy="548.1" r="2.1" fill="#b9b9b9"/><circle cx="512.2" cy="548.1" r="0.9" fill="#777"/>
<circle cx="574.0" cy="521.0" r="2.1" fill="#b9b9b9"/><circle cx="574.0" cy="521.0" r="0.9" fill="#777"/>
<circle cx="454.6" cy="579.0" r="2.1" fill="#b9b9b9"/><circle cx="454.6" cy="579.0" r="0.9" fill="#777"/>
<circle cx="519.0" cy="605.4" r="2.1" fill="#b9b9b9"/><circle cx="519.0" cy="605.4" r="0.9" fill="#777"/>
<circle cx="436.6" cy="624.0" r="2.1" fill="#b9b9b9"/><circle cx="436.6" cy="624.0" r="0.9" fill="#777"/>
<circle cx="445.2" cy="659.5" r="2.1" fill="#b9b9b9"/><circle cx="445.2" cy="659.5" r="0.9" fill="#777"/>
<circle cx="555.8" cy="583.5" r="2.1" fill="#b9b9b9"/><circle cx="555.8" cy="583.5" r="0.9" fill="#777"/>
<circle cx="564.3" cy="645.0" r="2.1" fill="#b9b9b9"/><circle cx="564.3" cy="645.0" r="0.9" fill="#777"/>
<circle cx="581.7" cy="710.5" r="2.1" fill="#b9b9b9"/><circle cx="581.7" cy="710.5" r="0.9" fill="#777"/>
<circle cx="515.0" cy="668.4" r="2.1" fill="#b9b9b9"/><circle cx="515.0" cy="668.4" r="0.9" fill="#777"/>
<g transform="rotate(6.2 485.1 557.2)">
<rect x="458.4" y="550.2" width="53.5" height="14" rx="7" fill="url(#pick)" stroke="#9a9a9a" stroke-width="0.7"/>
<rect x="468.1" y="555.0" width="38" height="6" rx="3" fill="#ececec" opacity="0.8"/>
<circle cx="463.6" cy="557.0" r="1.7" fill="#6d6d6d"/><circle cx="497.1" cy="557.5" r="1.4" fill="#fafafa"/>
</g>
<g transform="rotate(6.7 482.8 601.9)">
<rect x="456.0" y="594.9" width="53.5" height="14" rx="7" fill="url(#pick)" stroke="#9a9a9a" stroke-width="0.7"/>
<rect x="465.8" y="599.7" width="38" height="6" rx="3" fill="#ececec" opacity="0.8"/>
<circle cx="461.2" cy="601.6" r="1.7" fill="#6d6d6d"/><circle cx="494.8" cy="602.1" r="1.4" fill="#fafafa"/>
</g>
<g transform="rotate(12.5 482.5 642.5)">
<rect x="455.8" y="635.5" width="53.5" height="14" rx="7" fill="url(#pick)" stroke="#9a9a9a" stroke-width="0.7"/>
<rect x="465.5" y="640.3" width="38" height="6" rx="3" fill="#ececec" opacity="0.8"/>
<circle cx="461.0" cy="642.2" r="1.7" fill="#6d6d6d"/><circle cx="494.5" cy="642.7" r="1.4" fill="#fafafa"/>
</g>
<path d="M456 664.4 L507 672.8 L507.5 676.5 L513 677.6 Q514.3 677.9 514.3 679.5 L514 697.5 Q514 699.6 512 699.3 L454 692.6 Q452.2 692.4 452.3 690.4 L453.3 666.4 Q453.5 664 456 664.4Z" fill="#f4f4f4" stroke="#b4b4b4" stroke-width="0.9"/>
<path d="M461 672.8 L500 678 L500 690.6 L461 686 Z" fill="#fbfbfb" stroke="#c2c2c2" stroke-width="0.7"/>
<rect x="464.7" y="676.4" width="4.6" height="9.2" rx="1.3" fill="#0c0c0c"/>
<rect x="473.7" y="677.8" width="4.6" height="9.2" rx="1.3" fill="#0c0c0c"/>
<rect x="483.3" y="679.0" width="4.6" height="9.2" rx="1.3" fill="#0c0c0c"/>
<rect x="493.3" y="680.2" width="4.6" height="9.2" rx="1.3" fill="#0c0c0c"/>
<circle cx="457.7" cy="668.5" r="1.5" fill="#9a9a9a"/>
<circle cx="456.8" cy="688.7" r="1.5" fill="#9a9a9a"/>
<circle cx="503.5" cy="674.8" r="1.5" fill="#9a9a9a"/>
<circle cx="510.0" cy="694.5" r="1.5" fill="#9a9a9a"/>
<path d="M522.0 708.0C522.1 705.8 523.2 703.8 524.5 702.5C525.8 701.2 527.4 700.2 530.0 700.0C532.6 699.8 536.3 699.3 540.0 701.0C543.7 702.7 548.0 706.2 552.0 710.0C556.0 713.8 560.3 719.3 564.0 724.0C567.7 728.7 572.1 734.3 574.0 738.0C575.9 741.7 576.5 744.1 575.5 746.0C574.5 747.9 571.2 749.9 568.0 749.6C564.8 749.3 560.0 746.6 556.0 744.0C552.0 741.4 548.0 737.3 544.0 734.0C540.0 730.7 535.3 727.0 532.0 724.0C528.7 721.0 525.7 718.7 524.0 716.0C522.3 713.3 521.9 710.2 522.0 708.0Z" fill="#e4e4e4" stroke="#f1f1f1" stroke-width="0.6"/>
<path d="M524.0 708.1 L524.0 709.7 L524.3 711.4 L524.8 713.2 L525.7 714.9 L527.0 716.6 L528.7 718.4 L530.9 720.4 L532.1 721.4 L534.6 723.6 L537.5 726.1 L540.6 728.6 L542.2 729.9 L543.7 731.2 L545.3 732.5 L546.8 733.8 L548.3 735.1 L551.3 737.8 L554.2 740.2 L557.1 742.3 L560.1 744.2 L563.2 745.9 L566.0 747.1 L568.2 747.6 L570.0 747.5 L571.7 746.9 L573.0 745.9 L573.7 745.1 L574.0 744.2 L573.9 743.0 L573.3 741.3 L572.2 738.9 L570.5 736.0 L568.0 732.6 L565.3 728.9 L562.4 725.2 L559.6 721.6 L556.6 718.0 L553.6 714.5 L550.6 711.4 L547.6 708.7 L544.7 706.3 L541.8 704.3 L539.2 702.8 L536.8 702.1 L534.5 701.8 L532.3 701.8 L530.2 702.0 L528.8 702.2 L527.7 702.6 L526.7 703.2 L525.9 703.9 L525.2 704.8 L524.6 705.8 L524.2 706.9Z" fill="url(#jackg)"/>
<path d="M536 716.5 L544 709.5 L550.5 718.5 L541.5 725 Z" fill="#9a9a9a"/>
<path d="M541.5 725 L550.5 718.5 L563 735.5 L556.5 739 Z" fill="#c9c9c9"/>
<circle cx="531.5" cy="710.3" r="1.2" fill="#777"/><circle cx="569.3" cy="742.6" r="1.2" fill="#777"/>
<circle cx="525.4" cy="658.6" r="8.2" fill="#c9c9c9"/>
<circle cx="525.4" cy="658.0" r="7.4" fill="url(#knob)"/>
<circle cx="525.4" cy="657.5" r="4.3" fill="#ededed" stroke="#c2c2c2" stroke-width="0.6"/>
<circle cx="549.8" cy="674.9" r="8.2" fill="#c9c9c9"/>
<circle cx="549.8" cy="674.3" r="7.4" fill="url(#knob)"/>
<circle cx="549.8" cy="673.8" r="4.3" fill="#ededed" stroke="#c2c2c2" stroke-width="0.6"/>
<circle cx="569.3" cy="692.8" r="8.2" fill="#c9c9c9"/>
<circle cx="569.3" cy="692.2" r="7.4" fill="url(#knob)"/>
<circle cx="569.3" cy="691.7" r="4.3" fill="#ededed" stroke="#c2c2c2" stroke-width="0.6"/>
<path d="M477.3 204 L523.5 204 L518.6 536 Q518.6 542 512.6 542 L466 540.6 Q460 540.4 460.3 534 Z" fill="#4d2515"/>
<line x1="475.7" y1="235.5" x2="523.0" y2="236.8" stroke="#71412a" stroke-width="0.9"/>
<line x1="474.2" y1="264.5" x2="522.6" y2="265.8" stroke="#71412a" stroke-width="0.9"/>
<line x1="472.9" y1="289.5" x2="522.2" y2="290.8" stroke="#71412a" stroke-width="0.9"/>
<line x1="471.7" y1="313.5" x2="521.9" y2="314.8" stroke="#71412a" stroke-width="0.9"/>
<line x1="470.4" y1="337.0" x2="521.6" y2="338.3" stroke="#71412a" stroke-width="0.9"/>
<line x1="469.3" y1="359.5" x2="521.2" y2="360.8" stroke="#71412a" stroke-width="0.9"/>
<line x1="468.2" y1="380.0" x2="520.9" y2="381.3" stroke="#71412a" stroke-width="0.9"/>
<line x1="467.2" y1="399.5" x2="520.7" y2="400.8" stroke="#71412a" stroke-width="0.9"/>
<line x1="466.3" y1="418.0" x2="520.4" y2="419.3" stroke="#71412a" stroke-width="0.9"/>
<line x1="465.4" y1="435.5" x2="520.1" y2="436.8" stroke="#71412a" stroke-width="0.9"/>
<line x1="464.5" y1="452.0" x2="519.9" y2="453.3" stroke="#71412a" stroke-width="0.9"/>
<line x1="463.7" y1="467.5" x2="519.7" y2="468.8" stroke="#71412a" stroke-width="0.9"/>
<line x1="463.0" y1="482.0" x2="519.5" y2="483.3" stroke="#71412a" stroke-width="0.9"/>
<line x1="462.3" y1="495.5" x2="519.3" y2="496.8" stroke="#71412a" stroke-width="0.9"/>
<line x1="461.7" y1="508.0" x2="519.1" y2="509.3" stroke="#71412a" stroke-width="0.9"/>
<line x1="461.1" y1="519.5" x2="518.9" y2="520.8" stroke="#71412a" stroke-width="0.9"/>
<line x1="460.5" y1="530.0" x2="518.8" y2="531.3" stroke="#71412a" stroke-width="0.9"/>
<circle cx="496.2" cy="251.2" r="3.2" fill="#e9e9e9" stroke="#9a8f8a" stroke-width="0.7"/>
<circle cx="494.2" cy="326.2" r="3.2" fill="#e9e9e9" stroke="#9a8f8a" stroke-width="0.7"/>
<circle cx="491.9" cy="391.5" r="3.2" fill="#e9e9e9" stroke="#9a8f8a" stroke-width="0.7"/>
<circle cx="478.0" cy="446.8" r="3.2" fill="#e9e9e9" stroke="#9a8f8a" stroke-width="0.7"/>
<circle cx="499.2" cy="446.8" r="3.2" fill="#e9e9e9" stroke="#9a8f8a" stroke-width="0.7"/>
<circle cx="489.2" cy="478.0" r="3.2" fill="#e9e9e9" stroke="#9a8f8a" stroke-width="0.7"/>
<circle cx="487.5" cy="503.8" r="3.2" fill="#e9e9e9" stroke="#9a8f8a" stroke-width="0.7"/>
<line x1="484.8" y1="204" x2="472.2" y2="541" stroke="#b39a82" stroke-width="1"/>
<line x1="472.2" y1="541" x2="467.0" y2="680.0" stroke="#bdbdbd" stroke-width="1.1"/>
<line x1="493.8" y1="204" x2="481.2" y2="541" stroke="#b39a82" stroke-width="1"/>
<line x1="481.2" y1="541" x2="476.0" y2="681.5" stroke="#bdbdbd" stroke-width="1.1"/>
<line x1="503.2" y1="204" x2="490.8" y2="541" stroke="#b39a82" stroke-width="1"/>
<line x1="490.8" y1="541" x2="485.6" y2="682.5" stroke="#bdbdbd" stroke-width="1.1"/>
<line x1="512.2" y1="204" x2="500.5" y2="541" stroke="#b39a82" stroke-width="1"/>
<line x1="500.5" y1="541" x2="495.6" y2="683.5" stroke="#bdbdbd" stroke-width="1.1"/>
</g>
<g stroke="#de2330" stroke-width="2" fill="none">
<line x1="510" y1="158.2" x2="592" y2="158.2"/>
<line x1="370" y1="381.6" x2="481.25" y2="414.3"/>
<line x1="609.3" y1="507" x2="529.6" y2="647"/>
<line x1="610.5" y1="593.5" x2="553.6" y2="668"/>
<line x1="645.5" y1="644.6" x2="578.6" y2="688"/>
</g>
<circle cx="510.0" cy="158.2" r="7.2" fill="#e40a16"/>
<circle cx="481.2" cy="414.3" r="7.2" fill="#e40a16"/>
<circle cx="529.6" cy="647.0" r="7.2" fill="#e40a16"/>
<circle cx="553.6" cy="668.0" r="7.2" fill="#e40a16"/>
<circle cx="579.0" cy="688.0" r="7.2" fill="#e40a16"/>
<g>
<ellipse cx="141.9" cy="629.5" rx="19.5" ry="3.6" fill="#e3e3e3"/>
<ellipse cx="141.9" cy="629" rx="18" ry="2.6" fill="#c4c4c4"/>
<path d="M124.0 558 L159.8 558 L159.8 625.3 A17.9 4.6 0 0 1 124.0 625.3 Z" fill="url(#batK)"/>
<path d="M124.0 528 A17.9 5.6 0 0 1 159.8 528 L159.8 561 A17.9 3.6 0 0 1 124.0 561 Z" fill="url(#batY)"/>
<path d="M124.5 560.2 A17.9 3.6 0 0 0 159.3 560.2" fill="none" stroke="#8a7208" stroke-width="1" opacity="0.6"/>
<ellipse cx="141.9" cy="526.6" rx="13.6" ry="4.1" fill="url(#batT)"/>
<rect x="135.9" y="521.6" width="12" height="4.2" fill="url(#batT)"/>
<ellipse cx="141.9" cy="525.8" rx="6" ry="2.2" fill="url(#batT)"/>
<ellipse cx="141.9" cy="521.8" rx="6" ry="2.1" fill="#f3f3f3"/>
<text x="0" y="0" transform="translate(137.3 573.2) rotate(90)" font-family="'Liberation Sans', sans-serif" font-weight="700" font-size="14.5" fill="#fff" textLength="40" lengthAdjust="spacingAndGlyphs">POWER</text>
<text x="142.3" y="547.2" font-family="'Liberation Sans', sans-serif" font-weight="700" font-size="12" fill="#171200" stroke="#171200" stroke-width="0.8" text-anchor="middle">+</text>
<rect x="139.7" y="619.7" width="2.4" height="2.4" fill="#fff"/>
</g>
<g>
<ellipse cx="193.2" cy="629.5" rx="19.5" ry="3.6" fill="#e3e3e3"/>
<ellipse cx="193.2" cy="629" rx="18" ry="2.6" fill="#c4c4c4"/>
<path d="M175.3 558 L211.1 558 L211.1 625.3 A17.9 4.6 0 0 1 175.3 625.3 Z" fill="url(#batK)"/>
<path d="M175.3 528 A17.9 5.6 0 0 1 211.1 528 L211.1 561 A17.9 3.6 0 0 1 175.3 561 Z" fill="url(#batY)"/>
<path d="M175.8 560.2 A17.9 3.6 0 0 0 210.6 560.2" fill="none" stroke="#8a7208" stroke-width="1" opacity="0.6"/>
<ellipse cx="193.2" cy="526.6" rx="13.6" ry="4.1" fill="url(#batT)"/>
<rect x="187.2" y="521.6" width="12" height="4.2" fill="url(#batT)"/>
<ellipse cx="193.2" cy="525.8" rx="6" ry="2.2" fill="url(#batT)"/>
<ellipse cx="193.2" cy="521.8" rx="6" ry="2.1" fill="#f3f3f3"/>
<text x="0" y="0" transform="translate(188.6 573.2) rotate(90)" font-family="'Liberation Sans', sans-serif" font-weight="700" font-size="14.5" fill="#fff" textLength="40" lengthAdjust="spacingAndGlyphs">POWER</text>
<text x="193.6" y="547.2" font-family="'Liberation Sans', sans-serif" font-weight="700" font-size="12" fill="#171200" stroke="#171200" stroke-width="0.8" text-anchor="middle">+</text>
<rect x="191.0" y="619.7" width="2.4" height="2.4" fill="#fff"/>
</g>
<g>
<ellipse cx="245.1" cy="629.5" rx="19.5" ry="3.6" fill="#e3e3e3"/>
<ellipse cx="245.1" cy="629" rx="18" ry="2.6" fill="#c4c4c4"/>
<path d="M227.2 558 L263.0 558 L263.0 625.3 A17.9 4.6 0 0 1 227.2 625.3 Z" fill="url(#batK)"/>
<path d="M227.2 528 A17.9 5.6 0 0 1 263.0 528 L263.0 561 A17.9 3.6 0 0 1 227.2 561 Z" fill="url(#batY)"/>
<path d="M227.7 560.2 A17.9 3.6 0 0 0 262.5 560.2" fill="none" stroke="#8a7208" stroke-width="1" opacity="0.6"/>
<ellipse cx="245.1" cy="526.6" rx="13.6" ry="4.1" fill="url(#batT)"/>
<rect x="239.1" y="521.6" width="12" height="4.2" fill="url(#batT)"/>
<ellipse cx="245.1" cy="525.8" rx="6" ry="2.2" fill="url(#batT)"/>
<ellipse cx="245.1" cy="521.8" rx="6" ry="2.1" fill="#f3f3f3"/>
<text x="0" y="0" transform="translate(240.5 573.2) rotate(90)" font-family="'Liberation Sans', sans-serif" font-weight="700" font-size="14.5" fill="#fff" textLength="40" lengthAdjust="spacingAndGlyphs">POWER</text>
<text x="245.5" y="547.2" font-family="'Liberation Sans', sans-serif" font-weight="700" font-size="12" fill="#171200" stroke="#171200" stroke-width="0.8" text-anchor="middle">+</text>
<rect x="242.9" y="619.7" width="2.4" height="2.4" fill="#fff"/>
</g>
<g font-family="'Liberation Sans', sans-serif">
<text x="40.60" y="109.40" font-size="43.50" fill="#151515" textLength="326.96" lengthAdjust="spacingAndGlyphs">Function display</text>
<text transform="translate(121.15 149.00) scale(0.900 1)" font-size="18.50" fill="#737373" textLength="193.43" lengthAdjust="spacing" font-family="'Liberation Mono', monospace">JUST FEEL GOOD</text>
<text x="46.90" y="187.50" font-size="22.00" fill="#2a2a2a" textLength="171.70" lengthAdjust="spacingAndGlyphs">The strings sense</text>
<text x="224.00" y="187.50" font-size="22.00" fill="#2a2a2a" textLength="63.41" lengthAdjust="spacingAndGlyphs">a tune</text>
<text x="295.14" y="187.50" font-size="22.00" fill="#2a2a2a" textLength="37.92" lengthAdjust="spacingAndGlyphs">that</text>
<text x="46.00" y="218.00" font-size="22.00" fill="#2a2a2a" textLength="33.59" lengthAdjust="spacingAndGlyphs">can</text>
<text x="87.14" y="218.00" font-size="22.00" fill="#2a2a2a" textLength="112.50" lengthAdjust="spacingAndGlyphs">touch eight</text>
<text x="207.88" y="218.00" font-size="22.00" fill="#2a2a2a" textLength="146.82" lengthAdjust="spacingAndGlyphs">corresponding</text>
<text x="47.10" y="248.60" font-size="22.00" fill="#2a2a2a" textLength="54.69" lengthAdjust="spacingAndGlyphs">tones</text>
<text x="610.00" y="149.60" font-size="13.80" fill="#505050" textLength="110.04" lengthAdjust="spacingAndGlyphs">The sound quality</text>
<text x="609.75" y="168.50" font-size="13.80" fill="#505050" textLength="105.53" lengthAdjust="spacingAndGlyphs">simulation string</text>
<text x="609.75" y="187.50" font-size="13.80" fill="#505050" textLength="78.01" lengthAdjust="spacingAndGlyphs">is adjustable</text>
<text x="257.15" y="367.80" font-size="18.00" fill="#222222" textLength="82.03" lengthAdjust="spacingAndGlyphs">Intelligent</text>
<text x="258.95" y="391.30" font-size="18.00" fill="#222222" textLength="109.82" lengthAdjust="spacingAndGlyphs">touch sensing</text>
<text x="609.60" y="521.40" font-size="18.80" fill="#151515" textLength="114.20" lengthAdjust="spacingAndGlyphs">Play on end</text>
<text x="608.59" y="559.70" font-size="22.50" fill="#151515" textLength="122.19" lengthAdjust="spacingAndGlyphs">Play music</text>
<text x="622.06" y="589.90" font-size="23.20" fill="#151515" textLength="111.08" lengthAdjust="spacingAndGlyphs">(8 songs)</text>
<text x="607.85" y="637.00" font-size="24.80" fill="#151515" textLength="126.33" lengthAdjust="spacingAndGlyphs">On-off key</text>
<text x="64.10" y="658.80" font-size="22.60" fill="#5c3d43" textLength="140.52" lengthAdjust="spacingAndGlyphs">Product uses</text>
<text x="211.76" y="658.80" font-size="22.60" fill="#5c3d43" textLength="107.52" lengthAdjust="spacingAndGlyphs">3 1.5V &quot;AA</text>
<text x="64.90" y="691.60" font-size="22.60" fill="#5c3d43" textLength="266.06" lengthAdjust="spacingAndGlyphs">&quot;batteries (not included)</text>
</g>
</svg>
</body></html>
